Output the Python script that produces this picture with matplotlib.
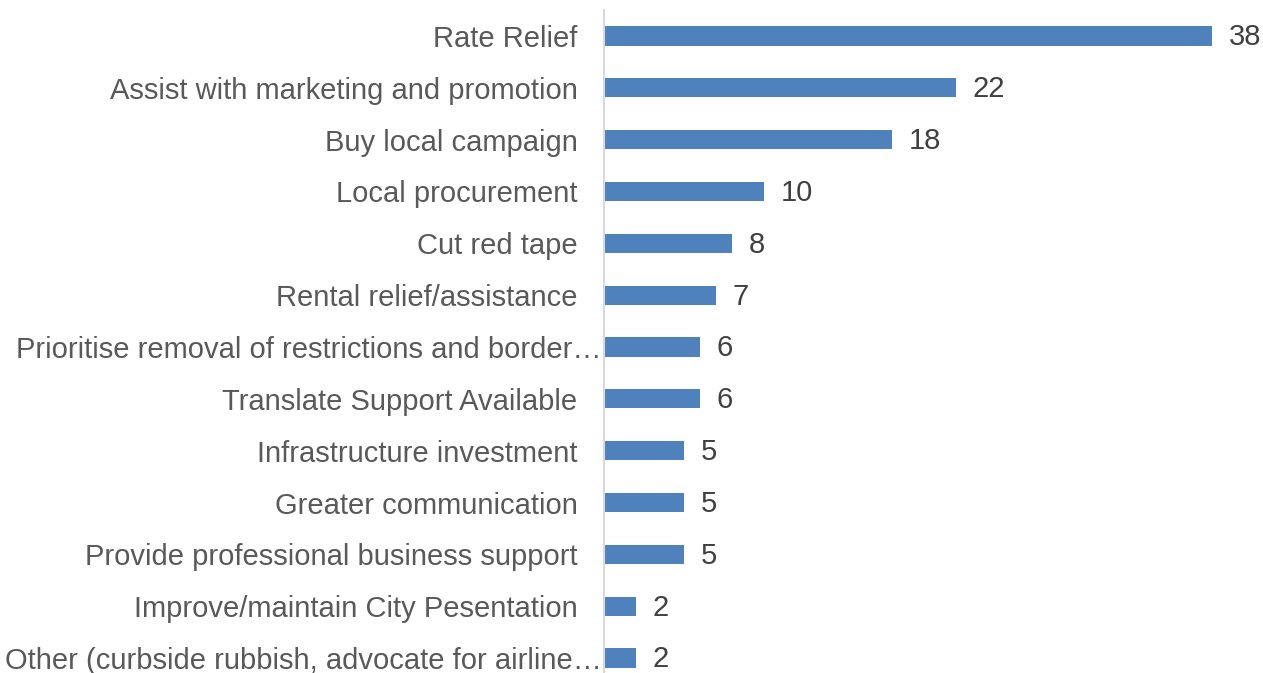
import matplotlib
matplotlib.use('Agg')
from matplotlib import pyplot as plt
from matplotlib import transforms

# Support measures requested (count of responses)
labels = [
    'Rate Relief',
    'Assist with marketing and promotion',
    'Buy local campaign',
    'Local procurement',
    'Cut red tape',
    'Rental relief/assistance',
    'Prioritise removal of restrictions and border\u2026',
    'Translate Support Available',
    'Infrastructure investment',
    'Greater communication',
    'Provide professional business support',
    'Improve/maintain City Pesentation',
    'Other (curbside rubbish, advocate for airline\u2026',
]
counts = [38, 22, 18, 10, 8, 7, 6, 6, 5, 5, 5, 2, 2]

bar_color = '#4F81BD'
text_color = '#595959'

plt.rcParams['font.family'] = ['Liberation Sans', 'DejaVu Sans']

fig = plt.figure(figsize=(12.63, 6.73), dpi=100)
ax = fig.add_axes([604/1263, -11/673, 640/1263, 674/673])

n = len(labels)
ypos = list(range(n))
ax.barh(ypos, counts, height=0.37, color=bar_color)
ax.set_ylim(n - 0.5, -0.5)
ax.set_xlim(0, 40)

ax.set_yticks(ypos)
ax.set_yticklabels(labels, fontsize=21, color=text_color)
ax.tick_params(axis='y', length=0, pad=19)
ax.set_xticks([])

# truncated category names run right up to the axis line
shift = transforms.ScaledTranslation(24/100, 0, fig.dpi_scale_trans)
for lbl in ax.get_yticklabels():
    if lbl.get_text().endswith('\u2026'):
        lbl.set_transform(lbl.get_transform() + shift)

for y, v in zip(ypos, counts):
    ax.annotate(str(v), (v, y), xytext=(12, -1), textcoords='offset points',
                va='center', ha='left', fontsize=21, color='#404040')

for side in ['top', 'right', 'bottom']:
    ax.spines[side].set_visible(False)
ax.spines['left'].set_color('#D9D9D9')
ax.spines['left'].set_linewidth(1.5)

fig.savefig('out.png', dpi=100)
